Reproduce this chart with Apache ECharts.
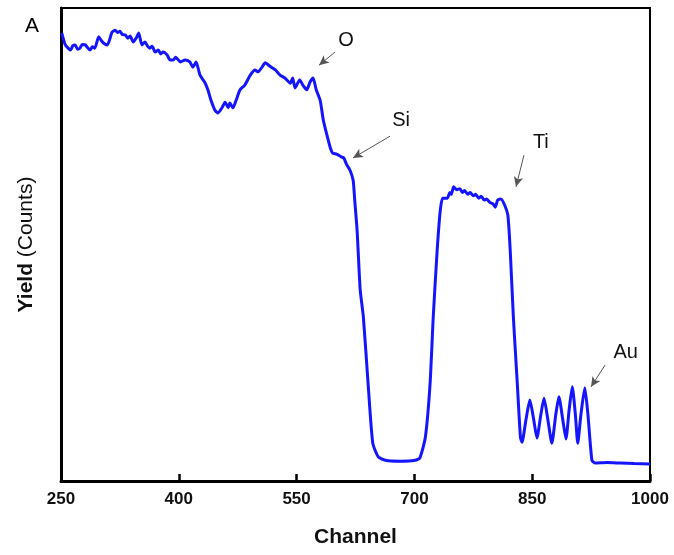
<!DOCTYPE html>
<html>
<head>
<meta charset="utf-8">
<script src="https://cdn.jsdelivr.net/npm/echarts@6/dist/echarts.min.js"></script>
<style>
  html, body { margin: 0; padding: 0; background: #fff; }
  #main { width: 674px; height: 555px; }
</style>
</head>
<body>
<div id="main"></div>
<script>
// spectrum (channel, yield in arbitrary units 0-100)
var channels = [251, 255, 258, 262, 265, 268, 271, 274, 277, 281, 284, 287, 290, 293, 298, 301, 304, 309, 315, 319, 322, 325, 328, 332, 335, 338,
  342, 346, 349, 353, 357, 360, 363, 366, 370, 374, 377, 380, 385, 389, 393, 396, 402, 408, 414,
  418, 422, 427, 433, 437, 441, 446, 450, 455, 459, 463, 465, 469, 473, 478, 484,
  491, 497, 501, 506, 510, 516, 523, 529, 535, 542, 545, 548, 554, 558, 563, 567,
  571, 575, 580, 584, 587, 593, 596, 601, 607, 610, 614, 618, 622, 624, 627, 631,
  635, 641, 647, 654, 663, 682, 701, 707, 714, 720, 724, 729, 733, 736, 742, 745, 747,
  750, 754, 758, 761, 764, 768, 771, 775, 778, 782, 785, 789, 792, 796, 800, 803, 806, 810, 815, 819, 822, 826, 831,
  835, 837, 842, 847, 852, 856, 861, 865, 870, 875, 880, 884, 889, 893, 897, 901,
  905, 908, 912, 917, 921, 926, 930, 945, 962, 980, 1000];
var yields = [94.7, 92.4, 91.7, 91.1, 92.0, 92.2, 91.3, 91.5, 92.3, 92.2, 91.6, 91.1, 91.8, 91.5, 93.9, 93.2, 92.6, 92.2, 94.9, 95.3, 94.8, 95.1, 94.4, 94.3, 93.6, 94.1,
  92.8, 93.7, 94.7, 92.2, 92.8, 92.0, 91.5, 91.9, 90.7, 91.1, 90.3, 90.7, 90.1, 89.0, 89.0, 89.6, 88.6, 89.0, 88.6,
  87.5, 88.6, 85.8, 84.3, 82.7, 80.5, 78.4, 77.8, 78.9, 80.1, 78.9, 79.9, 78.9, 80.5, 82.7, 83.7,
  85.8, 86.9, 86.5, 87.5, 88.4, 87.7, 86.9, 85.8, 85.2, 84.1, 85.2, 83.1, 84.8, 83.7, 82.7, 84.3,
  85.2, 82.7, 80.5, 76.3, 74.2, 70.4, 69.3, 69.1, 68.5, 68.3, 66.8, 65.7, 63.6, 59.4, 53.1, 40.4,
  34.7, 20.7, 8.0, 5.1, 4.4, 4.2, 4.4, 4.9, 9.3, 20.7, 34.7, 48.8, 57.3, 59.8, 59.8, 61.0, 60.6,
  62.2, 61.6, 61.8, 61.0, 61.4, 60.6, 61.0, 60.3, 60.6, 59.8, 60.2, 59.4, 59.6, 58.9, 58.6, 57.9, 59.4, 59.6, 58.3, 56.2, 48.8, 34.7, 20.7,
  9.3, 8.2, 12.9, 17.1, 12.9, 9.1, 14.0, 17.5, 12.9, 8.0, 14.0, 17.8, 12.9, 8.9, 15.0, 19.9,
  14.0, 8.0, 14.0, 19.7, 14.0, 4.4, 3.8, 3.9, 3.8, 3.7, 3.6];
var tickValues = [250, 400, 550, 700, 850, 1000];

// element labels: text position and arrow (from -> to)
var elements = ['O', 'Si', 'Ti', 'Au'];
var labelPos = [[613, 93.2], [683, 76.3], [861, 71.5], [969, 27.1]];
var arrowFrom = [[599, 90.7], [669, 72.9], [839.5, 68.9], [942.7, 24.5]];
var arrowTo = [[578.5, 87.9], [621.8, 68.3], [829.4, 62.2], [924.9, 19.9]];

var chart = echarts.init(document.getElementById('main'));

var points = [];
for (var i = 0; i < channels.length; i++) {
  points.push([channels[i], yields[i]]);
}
var arrows = [];
var labels = [];
for (var j = 0; j < elements.length; j++) {
  arrows.push([{coord: arrowFrom[j]}, {coord: arrowTo[j]}]);
  labels.push({name: elements[j], coord: labelPos[j]});
}

var option = {
  backgroundColor: '#fff',
  animation: false,
  textStyle: {fontFamily: '"Liberation Sans", Arial, sans-serif'},
  grid: {
    left: 61, right: 24, top: 8, bottom: 74,
    show: true, borderColor: '#000', borderWidth: 2
  },
  graphic: [{
    type: 'text', left: 25, top: 16,
    style: {text: 'A', fontSize: 21, fill: '#000', fontFamily: '"Liberation Sans", Arial, sans-serif'}
  }],
  xAxis: {
    type: 'value', min: 250, max: 1000,
    name: 'Channel', nameLocation: 'middle', nameGap: 46,
    nameTextStyle: {fontSize: 21, fontWeight: 'bold', color: '#111'},
    axisLine: {lineStyle: {color: '#000', width: 3}},
    axisTick: {inside: true, length: 7, lineStyle: {color: '#000', width: 2.5}, customValues: tickValues},
    axisLabel: {
      customValues: tickValues, fontSize: 17, fontWeight: 'bold', color: '#111', margin: 10,
      formatter: function (v) { return String(v); }
    },
    splitLine: {show: false}
  },
  yAxis: {
    type: 'value', min: 0, max: 100,
    name: '{b|Yield} (Counts)', nameLocation: 'middle', nameGap: 24,
    nameTextStyle: {fontSize: 21, color: '#111', rich: {b: {fontSize: 21, fontWeight: 'bold', color: '#111'}}},
    axisLine: {lineStyle: {color: '#000', width: 3}},
    axisTick: {show: false},
    axisLabel: {show: false},
    splitLine: {show: false}
  },
  series: [{
    type: 'line',
    data: points,
    showSymbol: false,
    smooth: 0.2,
    lineStyle: {color: '#1414ff', width: 3},
    markLine: {
      silent: true,
      symbol: ['none', 'arrow'],
      symbolSize: [7, 10],
      lineStyle: {color: '#555', width: 1, type: 'solid'},
      itemStyle: {color: '#000'},
      label: {show: false},
      data: arrows
    },
    markPoint: {
      silent: true,
      symbol: 'circle', symbolSize: 0,
      label: {show: true, position: 'inside', formatter: '{b}', fontSize: 20, color: '#111'},
      data: labels
    }
  }]
};
chart.setOption(option);
</script>
</body>
</html>
